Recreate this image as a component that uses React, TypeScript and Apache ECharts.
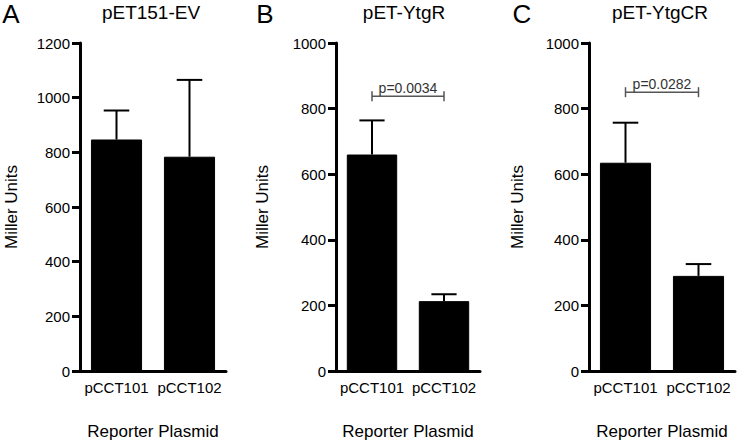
import React, { useEffect, useRef } from "react";
import * as echarts from "echarts";

const categories = ["pCCT101", "pCCT102"];
const panelTitles = ["pET151-EV", "pET-YtgR", "pET-YtgCR"];
const panelLetters = ["A", "B", "C"];
const evMeans = [847, 784];
const evErrTop = [953, 1065];
const ytgRMeans = [660, 213];
const ytgRErrTop = [764, 234];
const ytgCRMeans = [635, 290];
const ytgCRErrTop = [757, 326];
const yMax = [1200, 1000, 1000];
const pLabels = ["", "p=0.0034", "p=0.0282"];
const pLevels = [0, 838, 850];

const FONT = "'Liberation Sans', Arial, Helvetica, sans-serif";

export default function App() {
  const ref = useRef<HTMLDivElement>(null);
  useEffect(() => {
    document.body.style.margin = "0";
    const chart = echarts.init(ref.current!, null, { renderer: "svg" });
    const means = [evMeans, ytgRMeans, ytgCRMeans];
    const tops = [evErrTop, ytgRErrTop, ytgCRErrTop];
    const grids = [
      { left: 80, top: 43, width: 146, height: 330 },
      { left: 336, top: 43, width: 144, height: 330 },
      { left: 589, top: 43, width: 146, height: 330 },
    ];
    const titleX = [151, 404, 660];
    const letterX = [11, 265, 522];
    const yNameGap = [60, 65, 63];

    const xAxes = grids.map((_, i) => ({
      type: "category",
      gridIndex: i,
      data: categories,
      name: "Reporter Plasmid",
      nameLocation: "middle",
      nameGap: 52,
      nameTextStyle: { fontSize: 17, color: "#000", fontFamily: FONT },
      axisLine: { lineStyle: { color: "#000", width: 3 } },
      axisTick: { alignWithLabel: true, length: 7, lineStyle: { color: "#000", width: 3 } },
      axisLabel: { interval: 0, fontSize: 15, color: "#000", fontFamily: FONT, margin: 9, hideOverlap: false },
    }));
    const yAxes = grids.map((_, i) => ({
      type: "value",
      gridIndex: i,
      min: 0,
      max: yMax[i],
      interval: 200,
      name: "Miller Units",
      nameLocation: "middle",
      nameGap: yNameGap[i],
      nameTextStyle: { fontSize: 17, color: "#000", fontFamily: FONT },
      axisLine: { show: true, lineStyle: { color: "#000", width: 3 } },
      axisTick: { show: true, length: 8, lineStyle: { color: "#000", width: 3 } },
      axisLabel: {
        fontSize: 15,
        color: "#000",
        fontFamily: FONT,
        margin: 10,
        formatter: (v: number) => String(v),
      },
      splitLine: { show: false },
    }));

    const series: any[] = [];
    grids.forEach((_, i) => {
      series.push({
        type: "bar",
        xAxisIndex: i,
        yAxisIndex: i,
        data: means[i],
        barWidth: "70%",
        itemStyle: { color: "#000", borderColor: "#000", borderWidth: 1 },
        z: 2,
      });
      series.push({
        type: "custom",
        xAxisIndex: i,
        yAxisIndex: i,
        data: means[i].map((m, j) => [j, m, tops[i][j]]),
        z: 3,
        renderItem: (params: any, api: any) => {
          const x = api.value(0);
          const p0 = api.coord([x, api.value(1)]);
          const p1 = api.coord([x, api.value(2)]);
          const half = api.size([1, 0])[0] * 0.175;
          const style = { stroke: "#000", lineWidth: 2 };
          return {
            type: "group",
            children: [
              { type: "line", shape: { x1: p0[0], y1: p0[1], x2: p1[0], y2: p1[1] }, style },
              { type: "line", shape: { x1: p1[0] - half, y1: p1[1], x2: p1[0] + half, y2: p1[1] }, style },
            ],
          };
        },
      });
      if (pLabels[i]) {
        series.push({
          type: "custom",
          xAxisIndex: i,
          yAxisIndex: i,
          data: [[0, 1, pLevels[i]]],
          z: 3,
          renderItem: (params: any, api: any) => {
            const a = api.coord([api.value(0), api.value(2)]);
            const b = api.coord([api.value(1), api.value(2)]);
            const style = { stroke: "#555", lineWidth: 1.5 };
            return {
              type: "group",
              children: [
                { type: "line", shape: { x1: a[0], y1: a[1], x2: b[0], y2: b[1] }, style },
                { type: "line", shape: { x1: a[0], y1: a[1] - 5, x2: a[0], y2: a[1] + 5 }, style },
                { type: "line", shape: { x1: b[0], y1: b[1] - 5, x2: b[0], y2: b[1] + 5 }, style },
                {
                  type: "text",
                  x: (a[0] + b[0]) / 2,
                  y: a[1] - 1,
                  style: {
                    text: pLabels[i],
                    fill: "#333",
                    font: `14px ${FONT}`,
                    align: "center",
                    verticalAlign: "bottom",
                  },
                },
              ],
            };
          },
        });
      }
    });

    const graphics: any[] = [];
    grids.forEach((_, i) => {
      graphics.push({
        type: "text",
        x: titleX[i],
        y: 12,
        style: { text: panelTitles[i], font: `19px ${FONT}`, fill: "#000", align: "center", verticalAlign: "middle" },
      });
      graphics.push({
        type: "text",
        x: letterX[i],
        y: 14,
        style: { text: panelLetters[i], font: `26px ${FONT}`, fill: "#000", align: "center", verticalAlign: "middle" },
      });
    });

    chart.setOption({
      animation: false,
      backgroundColor: "#fff",
      textStyle: { fontFamily: FONT },
      grid: grids,
      xAxis: xAxes,
      yAxis: yAxes,
      series,
      graphic: graphics,
    });
    return () => chart.dispose();
  }, []);
  return <div ref={ref} style={{ width: 737, height: 445 }} />;
}
